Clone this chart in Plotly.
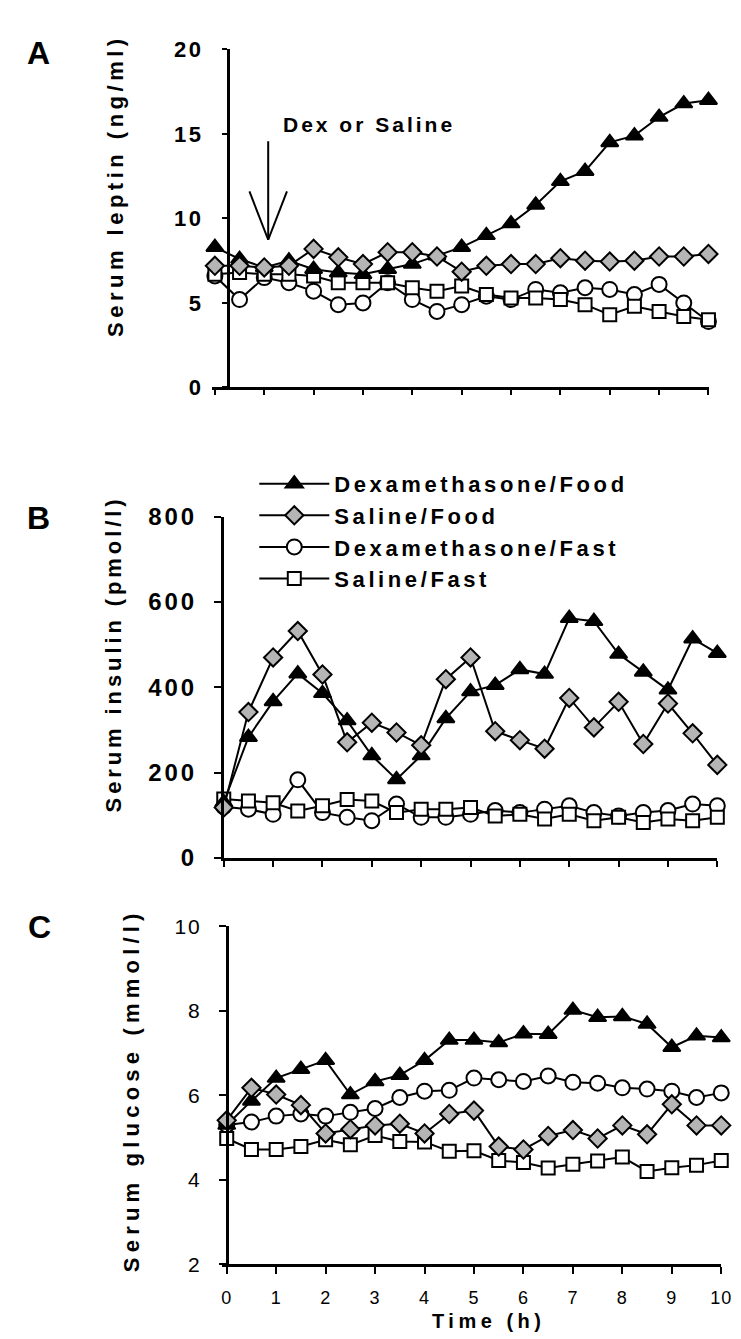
import plotly.graph_objects as go

# ---------------- data ----------------
time_h = [0, 0.5, 1, 1.5, 2, 2.5, 3, 3.5, 4, 4.5, 5, 5.5, 6, 6.5, 7, 7.5, 8, 8.5, 9, 9.5, 10]
x_ticks = [0, 1, 2, 3, 4, 5, 6, 7, 8, 9, 10]
x_tick_labels = ["0", "1", "2", "3", "4", "5", "6", "7", "8", "9", "10"]

series_names = ["Dexamethasone/Food", "Saline/Food", "Dexamethasone/Fast", "Saline/Fast"]

# Panel A: serum leptin (ng/ml)
leptin_dex_food = [8.3, 7.6, 7.1, 7.5, 7.0, 6.8, 6.7, 7.0, 7.3, 7.8, 8.3, 9.0, 9.7, 10.8, 12.2, 12.8, 14.5, 14.9, 16.0, 16.8, 17.0]
leptin_sal_food = [7.2, 7.2, 7.1, 7.2, 8.2, 7.7, 7.3, 8.0, 8.0, 7.75, 6.85, 7.2, 7.3, 7.3, 7.65, 7.5, 7.45, 7.5, 7.75, 7.75, 7.9]
leptin_dex_fast = [6.6, 5.2, 6.5, 6.2, 5.7, 4.9, 5.0, 6.2, 5.2, 4.5, 4.9, 5.4, 5.2, 5.8, 5.6, 5.9, 5.8, 5.5, 6.1, 5.0, 3.9]
leptin_sal_fast = [6.7, 6.8, 6.7, 6.7, 6.6, 6.2, 6.2, 6.2, 5.9, 5.7, 6.0, 5.5, 5.3, 5.3, 5.2, 4.9, 4.3, 4.8, 4.5, 4.2, 4.0]
leptin_ticks = [0, 5, 10, 15, 20]

# Panel B: serum insulin (pmol/l)
insulin_dex_food = [130, 283, 367, 432, 386, 322, 240, 184, 240, 327, 390, 405, 442, 431, 562, 555, 478, 436, 394, 514, 480]
insulin_sal_food = [118, 342, 470, 532, 430, 271, 317, 294, 264, 419, 470, 297, 276, 256, 375, 306, 366, 267, 362, 292, 218]
insulin_dex_fast = [120, 114, 102, 183, 106, 95, 87, 126, 95, 95, 102, 111, 106, 114, 122, 106, 98, 106, 111, 126, 122]
insulin_sal_fast = [138, 133, 129, 110, 122, 137, 133, 106, 114, 114, 118, 98, 102, 91, 102, 87, 95, 83, 91, 87, 95]
insulin_ticks = [0, 200, 400, 600, 800]

# Panel C: serum glucose (mmol/l)
glucose_dex_food = [5.3, 5.87, 6.41, 6.62, 6.83, 6.02, 6.33, 6.48, 6.83, 7.31, 7.31, 7.25, 7.46, 7.45, 8.02, 7.85, 7.87, 7.69, 7.14, 7.41, 7.37]
glucose_sal_food = [5.41, 6.18, 6.02, 5.77, 5.1, 5.2, 5.29, 5.33, 5.1, 5.56, 5.64, 4.79, 4.72, 5.04, 5.18, 4.98, 5.29, 5.08, 5.79, 5.29, 5.29]
glucose_dex_fast = [5.3, 5.37, 5.51, 5.56, 5.51, 5.6, 5.69, 5.95, 6.1, 6.12, 6.41, 6.37, 6.33, 6.46, 6.31, 6.29, 6.18, 6.15, 6.1, 5.95, 6.06]
glucose_sal_fast = [4.98, 4.72, 4.72, 4.79, 4.95, 4.83, 5.05, 4.91, 4.9, 4.68, 4.69, 4.46, 4.41, 4.28, 4.37, 4.45, 4.54, 4.2, 4.29, 4.35, 4.46]
glucose_ticks = [2, 4, 6, 8, 10]

# ---------------- layout helpers ----------------
W, H = 741, 1339
FONT = "Liberation Sans, Arial, sans-serif"


def fx(p):
    return p / W


def fy(p):
    return 1 - p / H


def spaced(text, px):
    return f'<span style="letter-spacing:{px}px">{text}</span>'


styles = {
    "Dexamethasone/Food": dict(symbol="triangle-up", size=15, color="black", rank=1),
    "Saline/Food": dict(symbol="diamond", size=14, color="#b5b5b5", rank=2),
    "Dexamethasone/Fast": dict(symbol="circle", size=15, color="white", rank=3),
    "Saline/Fast": dict(symbol="square", size=13, color="white", rank=4),
}

panels = [
    ("x", "y", {"Dexamethasone/Food": leptin_dex_food, "Saline/Food": leptin_sal_food,
                "Dexamethasone/Fast": leptin_dex_fast, "Saline/Fast": leptin_sal_fast}, False),
    ("x2", "y2", {"Dexamethasone/Food": insulin_dex_food, "Saline/Food": insulin_sal_food,
                  "Dexamethasone/Fast": insulin_dex_fast, "Saline/Fast": insulin_sal_fast}, True),
    ("x3", "y3", {"Dexamethasone/Food": glucose_dex_food, "Saline/Food": glucose_sal_food,
                  "Dexamethasone/Fast": glucose_dex_fast, "Saline/Fast": glucose_sal_fast}, False),
]

draw_order = ["Dexamethasone/Fast", "Saline/Fast", "Dexamethasone/Food", "Saline/Food"]

fig = go.Figure()
for xa, ya, data, show in panels:
    for name in draw_order:
        st = styles[name]
        fig.add_trace(go.Scatter(
            x=time_h, y=data[name], xaxis=xa, yaxis=ya,
            mode="lines+markers",
            name=spaced(name, 3.6),
            legendgroup=name, showlegend=show, legendrank=st["rank"],
            line=dict(color="black", width=2),
            marker=dict(symbol=st["symbol"], size=st["size"], color=st["color"],
                        line=dict(color="black", width=2)),
            cliponaxis=False,
        ))

axis_common = dict(showgrid=False, zeroline=False, showline=True, linecolor="black",
                   linewidth=2.5, ticks="outside", tickcolor="black", tickwidth=2)

fig.update_layout(
    width=W, height=H,
    margin=dict(l=0, r=0, t=0, b=0),
    paper_bgcolor="white", plot_bgcolor="white",
    font=dict(family=FONT, color="black"),
    legend=dict(x=fx(250), y=fy(450), xanchor="left", yanchor="top",
                bgcolor="rgba(0,0,0,0)", font=dict(size=22, weight="bold", family=FONT),
                itemwidth=70, tracegroupgap=0),
    # Panel A
    xaxis=dict(domain=[fx(207), fx(712)], range=[-0.06, 10.02], anchor="y",
               tickvals=x_ticks, showticklabels=False, ticklen=5, **axis_common),
    yaxis=dict(domain=[fy(373), fy(28)], range=[0, 20], anchor="free", position=fx(223),
               tickvals=leptin_ticks, ticktext=[spaced(str(v), 2.5) for v in leptin_ticks],
               tickfont=dict(size=22, weight="bold"), ticklen=5, ticklabelstandoff=14,
               **axis_common),
    # Panel B
    xaxis2=dict(domain=[fx(219), fx(720)], range=[0, 10], anchor="y2",
                tickvals=x_ticks, showticklabels=False, ticklen=6, **axis_common),
    yaxis2=dict(domain=[fy(853), fy(505)], range=[0, 800], anchor="x2",
                tickvals=insulin_ticks, ticktext=[spaced(str(v), 3) for v in insulin_ticks],
                tickfont=dict(size=24, weight="bold"), ticklen=7, ticklabelstandoff=12,
                **axis_common),
    # Panel C
    xaxis3=dict(domain=[fx(217), fx(724)], range=[-0.1, 10], anchor="y3",
                tickvals=x_ticks, ticktext=[spaced(t, 1) for t in x_tick_labels],
                tickfont=dict(size=18), ticklen=7, ticklabelstandoff=8, **axis_common),
    yaxis3=dict(domain=[fy(1268), fy(923)], range=[2, 10], anchor="free", position=fx(222),
                tickvals=glucose_ticks, ticktext=[spaced(str(v), 2) for v in glucose_ticks],
                tickfont=dict(size=21), ticklen=7, ticklabelstandoff=13, **axis_common),
)

# "Dex or Saline" arrow in panel A (open V head)
arrow_lines = [
    (1.08, 14.57, 1.08, 8.74),
    (0.70, 11.6, 1.08, 8.74),
    (1.46, 11.6, 1.08, 8.74),
]
for x0, y0, x1, y1 in arrow_lines:
    fig.add_shape(type="line", xref="x", yref="y", x0=x0, y0=y0, x1=x1, y1=y1,
                  line=dict(color="black", width=2))

annotations = [
    dict(text=spaced("Dex or Saline", 3), x=fx(366), y=fy(105), size=21, bold=True, angle=0),
    dict(text="A", x=fx(31), y=fy(32), size=32, bold=True, angle=0),
    dict(text="B", x=fx(31), y=fy(506), size=32, bold=True, angle=0),
    dict(text="C", x=fx(32), y=fy(924), size=32, bold=True, angle=0),
    dict(text=spaced("Serum leptin (ng/ml)", 4.5), x=fx(109), y=fy(167), size=22, bold=True, angle=-90),
    dict(text=spaced("Serum insulin (pmol/l)", 3.9), x=fx(108), y=fy(645), size=22, bold=True, angle=-90),
    dict(text=spaced("Serum glucose (mmol/l)", 5.2), x=fx(125), y=fy(1090), size=22, bold=True, angle=-90),
    dict(text=spaced("Time (h)", 4.5), x=fx(488), y=fy(1326), size=20, bold=True, angle=0),
]
for a in annotations:
    fig.add_annotation(
        text=a["text"], x=a["x"], y=a["y"], xref="paper", yref="paper",
        xanchor="center", yanchor="middle", showarrow=False, textangle=a["angle"],
        font=dict(size=a["size"], family=FONT, color="black",
                  weight="bold" if a["bold"] else "normal"),
    )

fig.write_html("out.html")
